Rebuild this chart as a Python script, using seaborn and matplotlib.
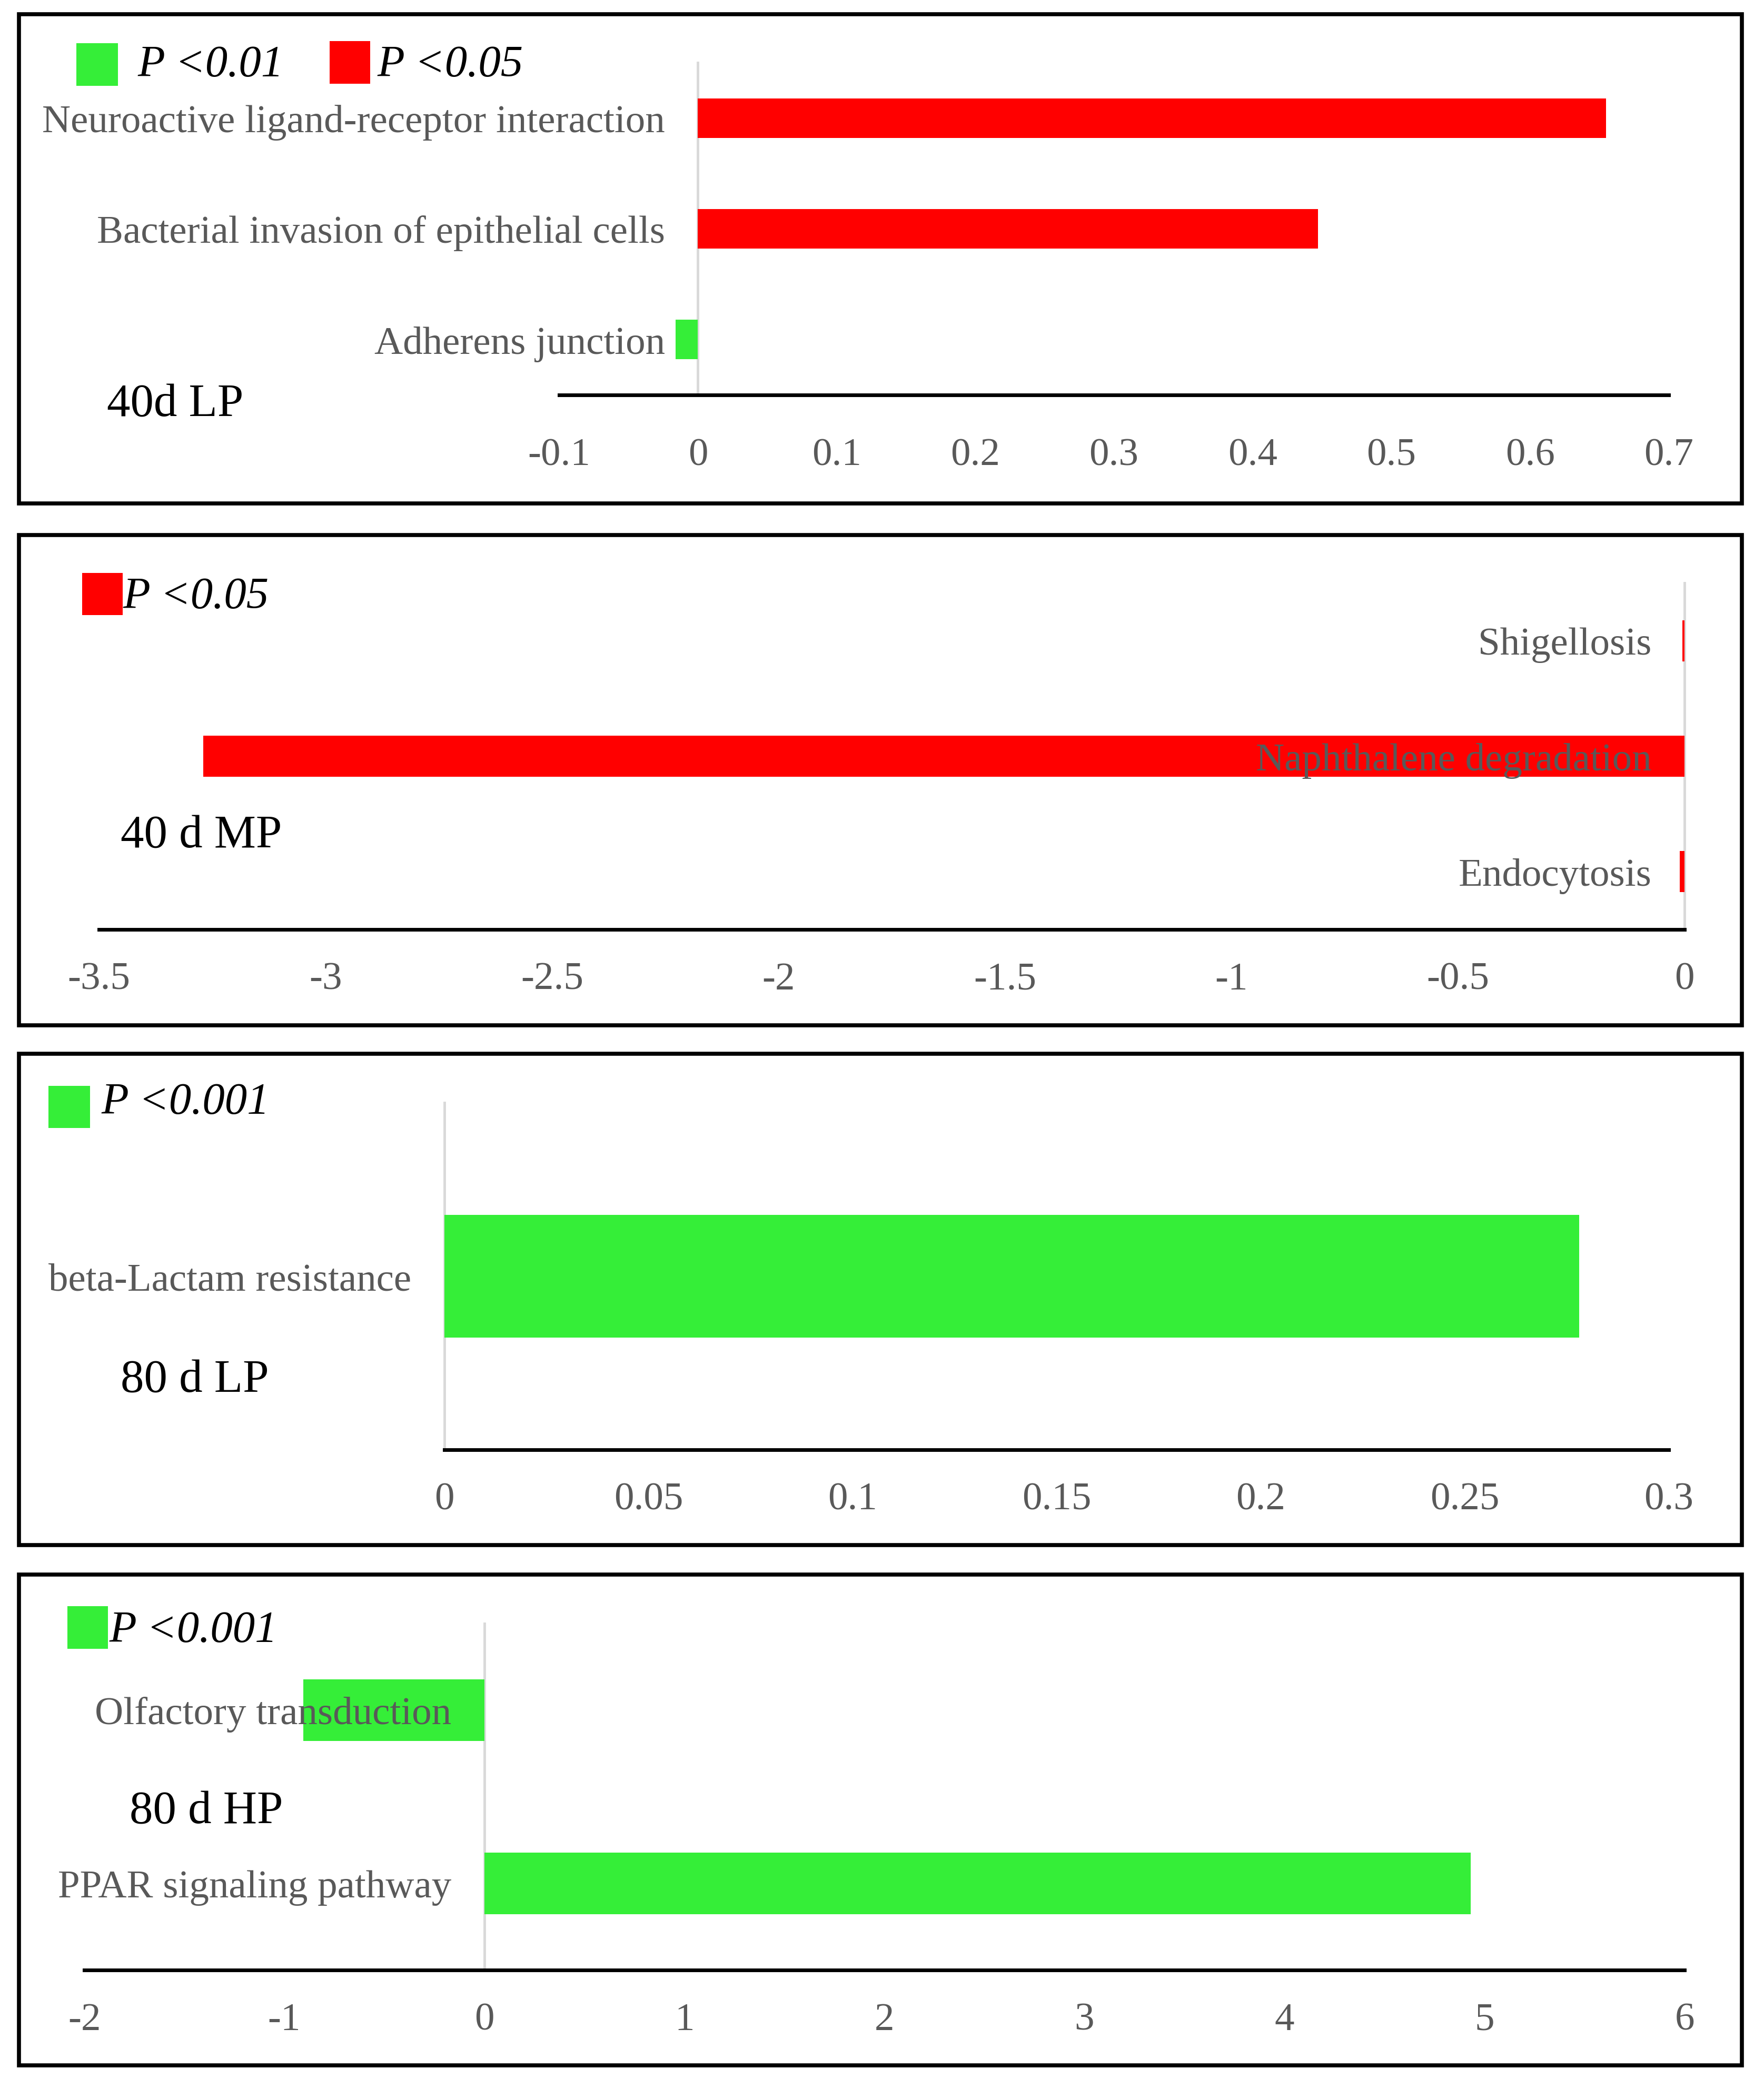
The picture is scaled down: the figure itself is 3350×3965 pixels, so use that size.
import numpy as np
import pandas as pd
import seaborn as sns
import matplotlib.pyplot as plt
from matplotlib.patches import Rectangle

# ---- data ----
lp40_paths = ['Neuroactive ligand-receptor interaction',
              'Bacterial invasion of epithelial cells',
              'Adherens junction']
lp40_values = [0.655, 0.447, -0.016]
lp40_sig = ['P <0.05', 'P <0.05', 'P <0.01']
lp40_ticks = [-0.1, 0, 0.1, 0.2, 0.3, 0.4, 0.5, 0.6, 0.7]

mp40_paths = ['Shigellosis', 'Naphthalene degradation', 'Endocytosis']
mp40_values = [-0.005, -3.27, -0.01]
mp40_sig = ['P <0.05', 'P <0.05', 'P <0.05']
mp40_ticks = [-3.5, -3, -2.5, -2, -1.5, -1, -0.5, 0]

lp80_paths = ['beta-Lactam resistance']
lp80_values = [0.278]
lp80_sig = ['P <0.001']
lp80_ticks = [0, 0.05, 0.1, 0.15, 0.2, 0.25, 0.3]

hp80_paths = ['Olfactory transduction', 'PPAR signaling pathway']
hp80_values = [-0.905, 4.93]
hp80_sig = ['P <0.001', 'P <0.001']
hp80_ticks = [-2, -1, 0, 1, 2, 3, 4, 5, 6]

GREEN = '#35EE38'
RED = '#FF0000'
sig_colors = {'P <0.01': GREEN, 'P <0.05': RED, 'P <0.001': GREEN}

W, H = 3350, 3966
sns.set_theme(style='white')
plt.rcParams['font.family'] = ['Liberation Serif', 'DejaVu Serif']
fig = plt.figure(figsize=(W / 100, H / 100), dpi=100)


def fx(x):
    return x / W


def fy(y):
    return 1 - y / H


def panel(box, area, paths, values, sig, ticks, name, name_xy, legend, xpad):
    # outer frame
    bx0, by0, bx1, by1 = box
    fig.add_artist(Rectangle((fx(bx0), fy(by1)), fx(bx1 - bx0), (by1 - by0) / H,
                             transform=fig.transFigure, fill=False,
                             ec='black', lw=5.5))
    x0, y0, x1, y1 = area
    ax = fig.add_axes([fx(x0), fy(y1), fx(x1 - x0), (y1 - y0) / H])
    ax.patch.set_alpha(0)
    df = pd.DataFrame({'path': paths, 'value': values, 'sig': sig})
    sns.barplot(data=df, x='value', y='path', hue='sig', palette=sig_colors,
                dodge=False, width=0.355, linewidth=0, legend=False,
                saturation=1, orient='h', ax=ax)
    for bar in ax.patches:
        bar.set_zorder(1.5)
    ax.set_axisbelow(False)  # category labels sit on top of the bars
    ax.set_xlim(ticks[0], ticks[-1])
    ax.set_ylim(len(paths) - 0.5, -0.5)
    ax.set_xticks(ticks)
    ax.set_xticklabels([f'{t:g}' for t in ticks])
    ax.set_xlabel('')
    ax.set_ylabel('')
    for s in ['top', 'right']:
        ax.spines[s].set_visible(False)
    ax.spines['bottom'].set_color('black')
    ax.spines['bottom'].set_linewidth(5)
    ax.spines['left'].set_position(('data', 0))
    ax.spines['left'].set_color('#D9D9D9')
    ax.spines['left'].set_linewidth(3.5)
    ax.spines['left'].set_zorder(1)
    ax.tick_params(axis='y', length=0, pad=45, labelsize=54,
                   labelcolor='#595959')
    ax.tick_params(axis='x', length=0, pad=xpad, labelsize=54,
                   labelcolor='#595959')
    # group name
    fig.text(fx(name_xy[0]), fy(name_xy[1]), name, fontsize=64,
             color='black', ha='left', va='center')
    # hand-made legend
    for (sx0, sy0, sx1, sy1), tx, ty, label in legend:
        fig.add_artist(Rectangle((fx(sx0), fy(sy1)), fx(sx1 - sx0),
                                 (sy1 - sy0) / H, transform=fig.transFigure,
                                 fc=sig_colors[label], ec='none'))
        fig.text(fx(tx), fy(ty), label, fontsize=61, fontstyle='italic',
                 color='black', ha='left', va='center')
    return ax


panel((36, 28, 3308, 957), (1062, 120, 3169, 751),
      lp40_paths, lp40_values, lp40_sig, lp40_ticks, '40d LP', (203, 768),
      [((145, 83, 224, 164), 261, 124, 'P <0.01'),
       ((626, 79, 703, 160), 716, 124, 'P <0.05')], 58)

panel((36, 1017, 3308, 1948), (188, 1108, 3199, 1766),
      mp40_paths, mp40_values, mp40_sig, mp40_ticks, '40 d MP', (229, 1587),
      [((156, 1089, 233, 1169), 233, 1134, 'P <0.05')], 44)

panel((36, 2002, 3308, 2935), (844, 2095, 3169, 2754),
      lp80_paths, lp80_values, lp80_sig, lp80_ticks, '80 d LP', (229, 2621),
      [((92, 2063, 171, 2143), 192, 2095, 'P <0.001')], 44)

panel((36, 2991, 3308, 3923), (160, 3084, 3199, 3742),
      hp80_paths, hp80_values, hp80_sig, hp80_ticks, '80 d HP', (246, 3440),
      [((128, 3051, 205, 3132), 207, 3098, 'P <0.001')], 44)

fig.savefig('out.png', dpi=100, facecolor='white')
